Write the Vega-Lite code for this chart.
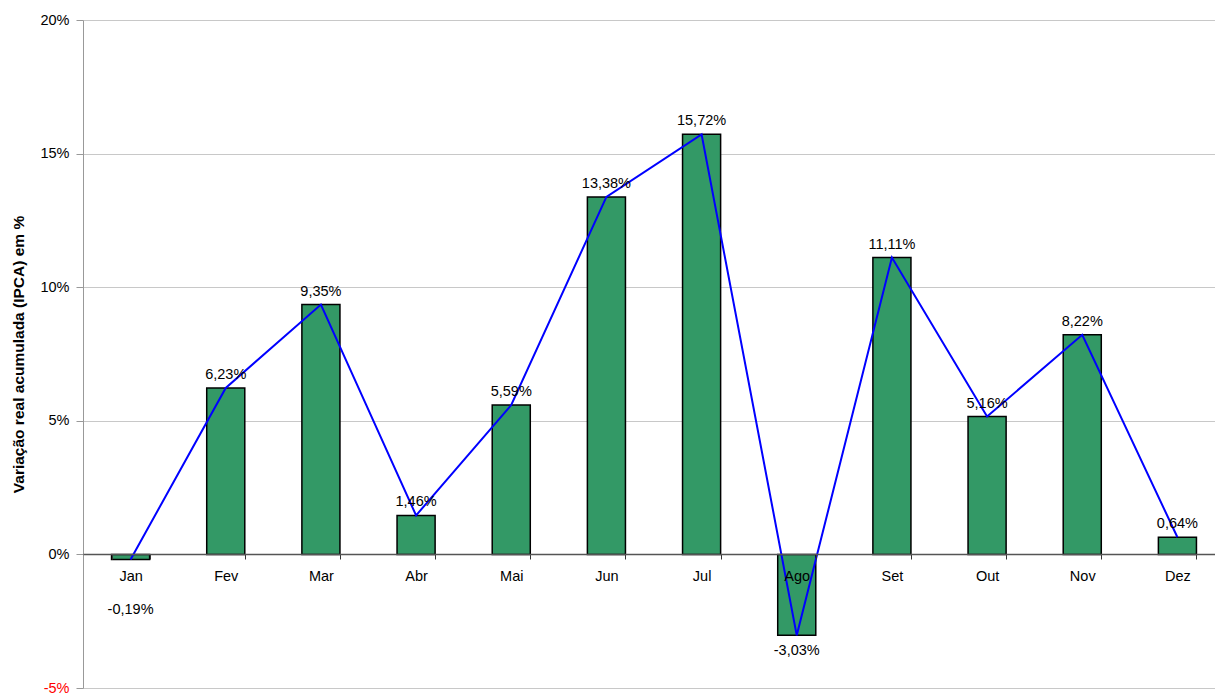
{
  "$schema": "https://vega.github.io/schema/vega-lite/v6.json",
  "width": 1142,
  "height": 668,
  "autosize": {"type": "none"},
  "padding": {"left": 83, "top": 20, "right": 0, "bottom": 5},
  "background": "white",
  "config": {
    "view": {"stroke": null},
    "font": "Liberation Sans",
    "axis": {"labelFont": "Liberation Sans", "titleFont": "Liberation Sans"}
  },
  "data": {
    "values": [
      {"mes": "Jan", "valor": -0.19},
      {"mes": "Fev", "valor": 6.23},
      {"mes": "Mar", "valor": 9.35},
      {"mes": "Abr", "valor": 1.46},
      {"mes": "Mai", "valor": 5.59},
      {"mes": "Jun", "valor": 13.38},
      {"mes": "Jul", "valor": 15.72},
      {"mes": "Ago", "valor": -3.03},
      {"mes": "Set", "valor": 11.11},
      {"mes": "Out", "valor": 5.16},
      {"mes": "Nov", "valor": 8.22},
      {"mes": "Dez", "valor": 0.64}
    ]
  },
  "transform": [
    {"calculate": "replace(replace(format(datum.valor, '.2f'), '.', ','), '\u2212', '-') + '%'", "as": "rotulo"}
  ],
  "encoding": {
    "x": {
      "field": "mes",
      "type": "nominal",
      "sort": null,
      "scale": {"paddingInner": 0.6, "paddingOuter": 0.3},
      "axis": {
        "title": null,
        "offset": -134,
        "zindex": 1,
        "labelAngle": 0,
        "labelFontSize": 14.5,
        "labelColor": "black",
        "labelPadding": 10,
        "tickBand": "extent",
        "tickSize": 5,
        "tickColor": "#333333",
        "domainColor": "#555555",
        "domainWidth": 1.5,
        "grid": false
      }
    }
  },
  "layer": [
    {
      "mark": {"type": "bar", "color": "#339966", "stroke": "black", "strokeWidth": 1.5},
      "encoding": {
        "y": {
          "field": "valor",
          "type": "quantitative",
          "scale": {"domain": [-5, 20], "nice": false, "zero": false},
          "axis": {
            "title": "Variação real acumulada (IPCA) em %",
            "titleFontSize": 15.5,
            "titleFontWeight": "bold",
            "titleColor": "black",
            "titleX": -57,
            "values": [-5, 0, 5, 10, 15, 20],
            "labelExpr": "datum.value + '%'",
            "labelFontSize": 14.5,
            "labelColor": {"condition": {"test": "datum.value < 0", "value": "red"}, "value": "black"},
            "labelPadding": 7,
            "tickSize": 7,
            "tickColor": "#999999",
            "domainColor": "#999999",
            "gridColor": "#c8c8c8",
            "gridWidth": 1
          }
        }
      }
    },
    {
      "mark": {"type": "line", "color": "#0000ff", "strokeWidth": 2},
      "encoding": {"y": {"field": "valor", "type": "quantitative"}}
    },
    {
      "transform": [{"filter": "datum.valor >= 0"}],
      "mark": {"type": "text", "fontSize": 14.5, "color": "black", "baseline": "alphabetic", "dy": -9},
      "encoding": {
        "y": {"field": "valor", "type": "quantitative"},
        "text": {"field": "rotulo"}
      }
    },
    {
      "transform": [
        {"filter": "datum.valor < 0"},
        {"calculate": "min(datum.valor, -1.5)", "as": "posRotulo"}
      ],
      "mark": {"type": "text", "fontSize": 14.5, "color": "black", "baseline": "top", "dy": 9},
      "encoding": {
        "y": {"field": "posRotulo", "type": "quantitative"},
        "text": {"field": "rotulo"}
      }
    }
  ]
}
